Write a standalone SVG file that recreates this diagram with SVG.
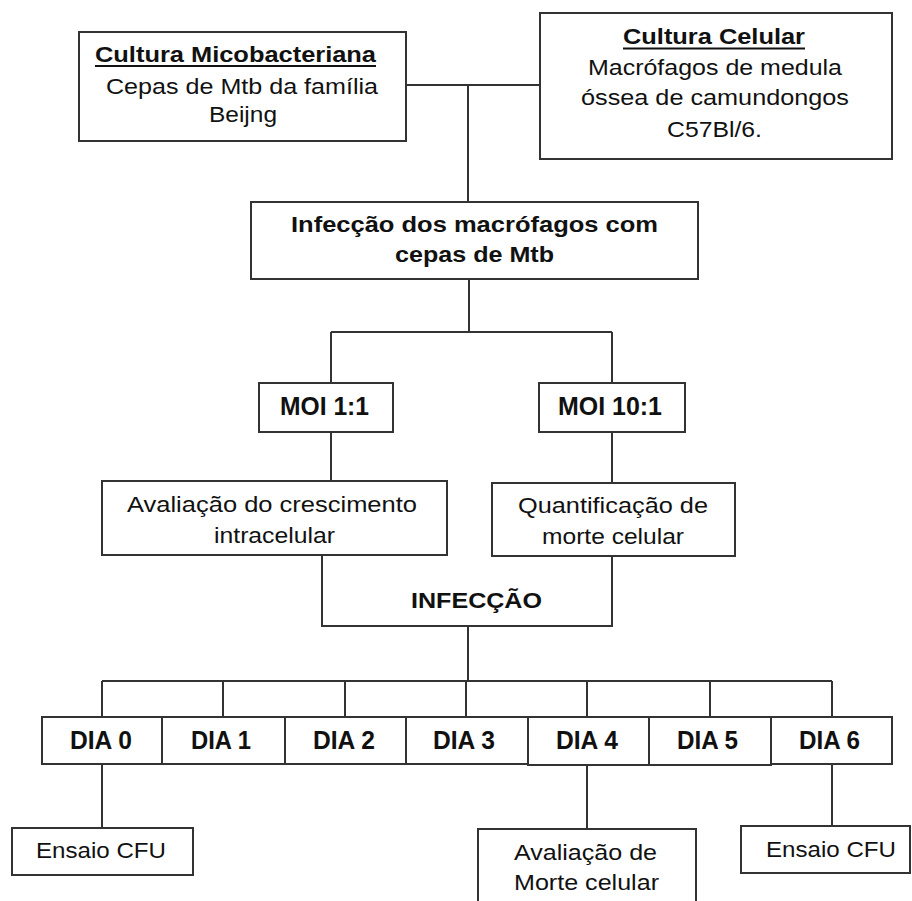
<svg xmlns="http://www.w3.org/2000/svg" width="912" height="901" viewBox="0 0 912 901">
<style>
.box{fill:#fff;stroke:#333;stroke-width:2}
.ln{fill:none;stroke:#333;stroke-width:2}
text{font-family:"Liberation Sans",Arial,sans-serif;font-size:22px;fill:#111}
.b{font-weight:bold}
.big{font-size:25px}
</style>
<rect width="912" height="901" fill="#fff"/>
<g id="connectors">
<path class="ln" d="M406 85H540M468 85V202"/>
<path class="ln" d="M469 279V332M331 332H612M331 332V383M612 332V383"/>
<path class="ln" d="M331 432V481M612 432V483"/>
<path class="ln" d="M468 626V681M102 681H832M102 681V717M223 681V717M345 681V717M466 681V717M587 681V717M710 681V717M832 681V717"/>
<path class="ln" d="M102 764V828M587 765V829M832 764V826"/>
</g>
<g id="cultura-micobacteriana">
<rect class="box" x="79" y="32" width="327" height="109"/>
<text class="b" x="95" y="62" textLength="281" lengthAdjust="spacingAndGlyphs">Cultura Micobacteriana</text>
<line x1="95" y1="66" x2="376" y2="66" stroke="#111" stroke-width="2"/>
<text x="106" y="94" textLength="272" lengthAdjust="spacingAndGlyphs">Cepas de Mtb da família</text>
<text x="209" y="122" textLength="68" lengthAdjust="spacingAndGlyphs">Beijng</text>
</g>
<g id="cultura-celular">
<rect class="box" x="540" y="13" width="352" height="146"/>
<text class="b" x="623" y="44" textLength="182" lengthAdjust="spacingAndGlyphs">Cultura Celular</text>
<line x1="623" y1="48.5" x2="805" y2="48.5" stroke="#111" stroke-width="2"/>
<text x="588" y="75" textLength="254" lengthAdjust="spacingAndGlyphs">Macrófagos de medula</text>
<text x="581" y="105" textLength="268" lengthAdjust="spacingAndGlyphs">óssea de camundongos</text>
<text x="667" y="137" textLength="95" lengthAdjust="spacingAndGlyphs">C57Bl/6.</text>
</g>
<g id="infeccao-macrofagos">
<rect class="box" x="251" y="202" width="447" height="77"/>
<text class="b" x="291" y="232" textLength="367" lengthAdjust="spacingAndGlyphs">Infecção dos macrófagos com</text>
<text class="b" x="395" y="262" textLength="159" lengthAdjust="spacingAndGlyphs">cepas de Mtb</text>
</g>
<g id="moi-1-1">
<rect class="box" x="259" y="383" width="134" height="49"/>
<text class="b big" x="280" y="415" textLength="89" lengthAdjust="spacingAndGlyphs">MOI 1:1</text>
</g>
<g id="moi-10-1">
<rect class="box" x="539" y="383" width="146" height="49"/>
<text class="b big" x="558" y="415" textLength="104" lengthAdjust="spacingAndGlyphs">MOI 10:1</text>
</g>
<g id="avaliacao-crescimento">
<rect class="box" x="102" y="481" width="345" height="74"/>
<text x="127" y="512" textLength="290" lengthAdjust="spacingAndGlyphs">Avaliação do crescimento</text>
<text x="214" y="543" textLength="121" lengthAdjust="spacingAndGlyphs">intracelular</text>
</g>
<g id="quantificacao-morte">
<rect class="box" x="492" y="483" width="243" height="73"/>
<text x="518" y="513" textLength="190" lengthAdjust="spacingAndGlyphs">Quantificação de</text>
<text x="542" y="544" textLength="142" lengthAdjust="spacingAndGlyphs">morte celular</text>
</g>
<g id="infeccao">
<path class="ln" d="M322 555V626H612V556"/>
<text class="b" x="411" y="608" textLength="131" lengthAdjust="spacingAndGlyphs">INFECÇÃO</text>
</g>
<g id="dia-0"><rect class="box" x="42" y="717" width="120" height="47"/><text class="b big" x="70" y="749" textLength="62" lengthAdjust="spacingAndGlyphs">DIA 0</text></g>
<g id="dia-1"><rect class="box" x="162" y="717" width="123" height="47"/><text class="b big" x="191" y="749" textLength="60" lengthAdjust="spacingAndGlyphs">DIA 1</text></g>
<g id="dia-2"><rect class="box" x="285" y="717" width="121" height="47"/><text class="b big" x="313" y="749" textLength="62" lengthAdjust="spacingAndGlyphs">DIA 2</text></g>
<g id="dia-3"><rect class="box" x="406" y="717" width="122" height="47"/><text class="b big" x="433" y="749" textLength="62" lengthAdjust="spacingAndGlyphs">DIA 3</text></g>
<g id="dia-4"><rect class="box" x="528" y="717" width="121" height="48"/><text class="b big" x="556" y="749" textLength="62" lengthAdjust="spacingAndGlyphs">DIA 4</text></g>
<g id="dia-5"><rect class="box" x="649" y="717" width="122" height="48"/><text class="b big" x="677" y="749" textLength="61" lengthAdjust="spacingAndGlyphs">DIA 5</text></g>
<g id="dia-6"><rect class="box" x="771" y="717" width="121" height="47"/><text class="b big" x="799" y="749" textLength="61" lengthAdjust="spacingAndGlyphs">DIA 6</text></g>
<g id="ensaio-cfu-1">
<rect class="box" x="12" y="828" width="181" height="47"/>
<text x="36" y="858" textLength="130" lengthAdjust="spacingAndGlyphs">Ensaio CFU</text>
</g>
<g id="avaliacao-morte">
<rect class="box" x="478" y="829" width="218" height="80"/>
<text x="514" y="860" textLength="143" lengthAdjust="spacingAndGlyphs">Avaliação de</text>
<text x="514" y="890" textLength="145" lengthAdjust="spacingAndGlyphs">Morte celular</text>
</g>
<g id="ensaio-cfu-2">
<rect class="box" x="741" y="826" width="169" height="47"/>
<text x="766" y="857" textLength="130" lengthAdjust="spacingAndGlyphs">Ensaio CFU</text>
</g>
</svg>
